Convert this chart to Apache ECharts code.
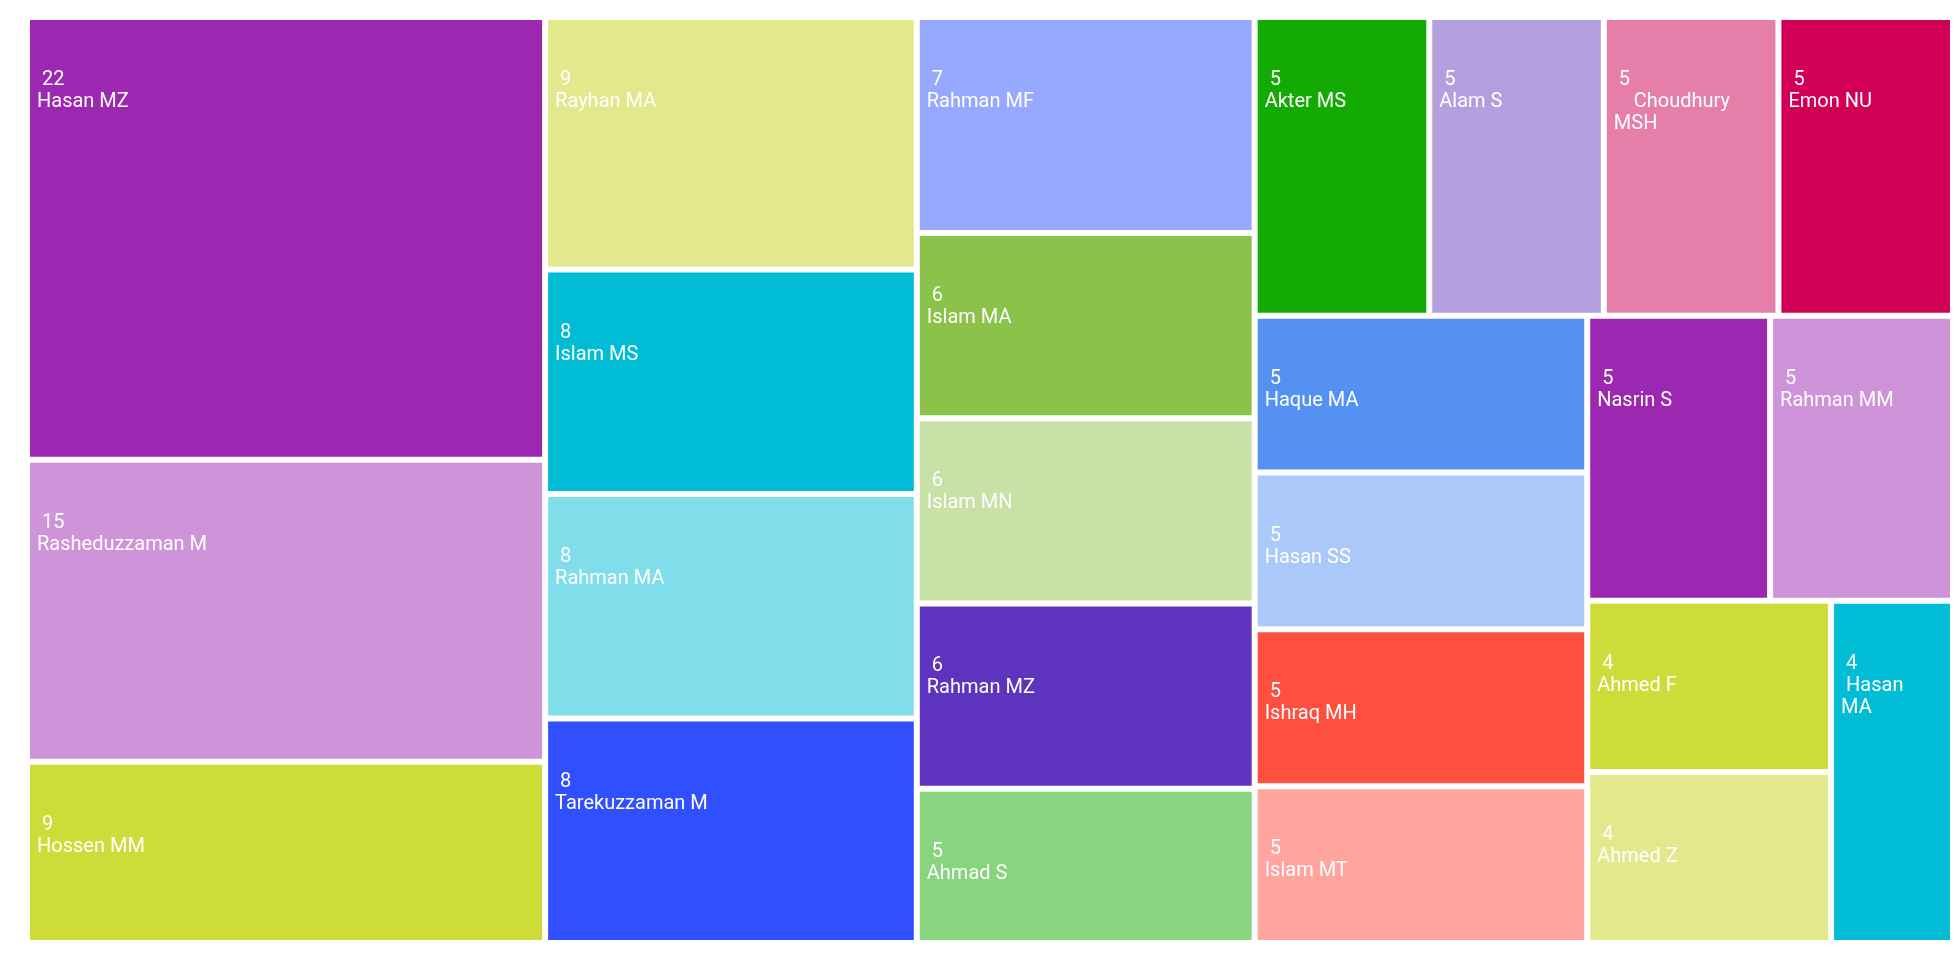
<!DOCTYPE html>
<html>
<head>
<meta charset="utf-8">
<script src="https://cdn.jsdelivr.net/npm/echarts@6/dist/echarts.min.js"></script>
<style>
html,body{margin:0;padding:0;background:#fff;}
#chart{width:1960px;height:960px;}
</style>
</head>
<body>
<div id="chart"></div>
<script>
const names = [
  'Hasan MZ','Rasheduzzaman M','Hossen MM','Rayhan MA','Islam MS','Rahman MA','Tarekuzzaman M',
  'Rahman MF','Islam MA','Islam MN','Rahman MZ','Ahmad S','Akter MS','Alam S','Choudhury MSH',
  'Emon NU','Haque MA','Hasan SS','Ishraq MH','Islam MT','Nasrin S','Rahman MM','Ahmed F','Ahmed Z','Hasan MA'
];
const values = [22,15,9,9,8,8,8,7,6,6,6,5,5,5,5,5,5,5,5,5,5,5,4,4,4];
const colors = [
  '#9C27B0','#CE93D8','#CDDC39','#E2E88B','#00BCD4','#80DEEA','#304FFE',
  '#97A8FF','#8BC34A','#C7E1A6','#5E33BE','#89D47F','#14AA04','#B39FDF','#E57FAA',
  '#D10056','#5591F3','#AAC8F9','#FF4F3F','#FFA59E','#9C27B0','#CE93D8','#CDDC39','#E2E88B','#00BCD4'
];
// names that wrap inside their narrow boxes in the reference
const wrappedNames = {
  'Choudhury MSH': '    Choudhury\nMSH',
  'Hasan MA': ' Hasan\nMA'
};

const data = names.map((n, i) => ({
  name: n,
  value: values[i],
  itemStyle: { color: colors[i] }
}));

const chart = echarts.init(document.getElementById('chart'));
chart.setOption({
  animation: false,
  series: [{
    type: 'treemap',
    left: 30, top: 20, right: 10, bottom: 20,
    roam: false,
    nodeClick: false,
    breadcrumb: { show: false },
    sort: false,
    itemStyle: { gapWidth: 6, borderWidth: 0, borderColor: '#fff' },
    levels: [{ itemStyle: { gapWidth: 6, borderWidth: 0, borderColor: '#fff' } }],
    label: {
      show: true,
      position: 'insideTopLeft',
      color: '#fff',
      fontFamily: 'Roboto',
      fontSize: 20,
      lineHeight: 22,
      padding: [5, 5, 5, 7],
      overflow: 'break',
      formatter: p => '\n\n ' + p.value + '\n' + (wrappedNames[p.name] || p.name)
    },
    data: data
  }]
});
</script>
</body>
</html>
